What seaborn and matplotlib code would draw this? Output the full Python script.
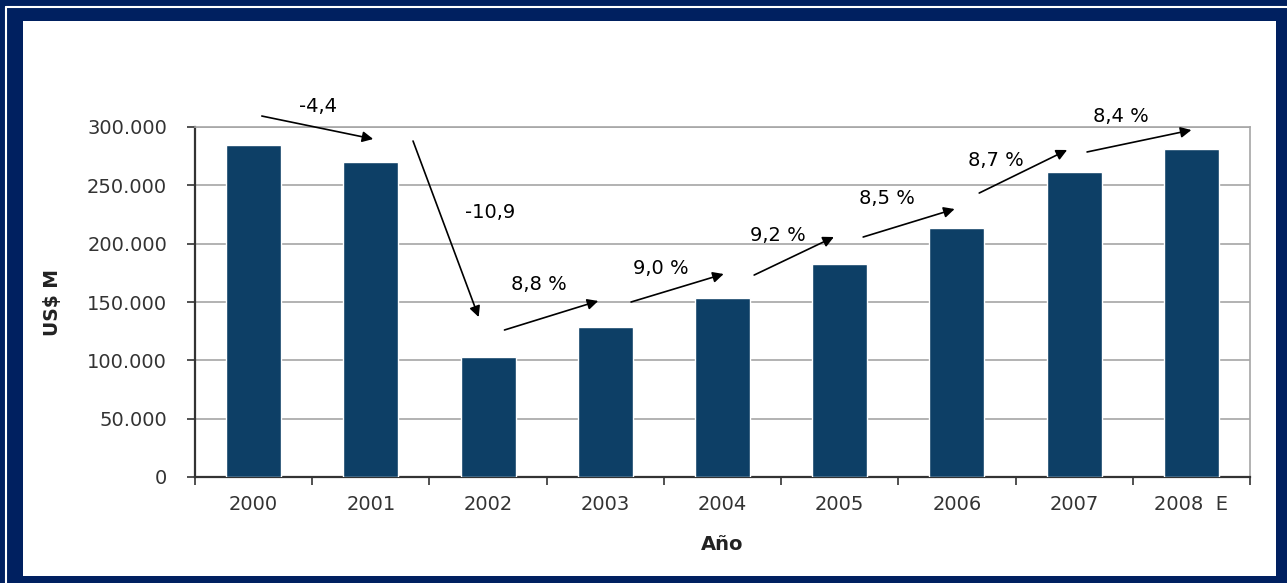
import numpy as np
import matplotlib
matplotlib.use("Agg")
import matplotlib.pyplot as plt
import matplotlib.patches as mpatches
from matplotlib.lines import Line2D
from matplotlib.ticker import FuncFormatter, FixedLocator
import seaborn as sns

# data
years = ["2000", "2001", "2002", "2003", "2004", "2005", "2006", "2007", "2008  E"]
values = [284500, 270000, 103000, 128500, 153500, 182500, 213500, 261500, 281000]

# growth labels and their arrows (data coordinates)
growth_labels = ["-4,4", "-10,9", "8,8 %", "9,0 %", "9,2 %", "8,5 %", "8,7 %", "8,4 %"]
arrow_tail = [(0.07, 309400), (1.36, 288000), (2.14, 126000), (3.22, 150000),
              (4.27, 173100), (5.20, 205700), (6.19, 243400), (7.11, 278600)]
arrow_head = [(1.02, 289700), (1.92, 137100), (2.94, 150900), (4.01, 174000),
              (4.95, 205700), (5.98, 229700), (6.94, 280300), (8.00, 297400)]
label_pos = [(0.55, 318000), (2.02, 226300), (2.43, 165400), (3.47, 178300),
             (4.47, 206600), (5.40, 239100), (6.33, 271700), (7.40, 309400)]

bar_color = "#0d3f66"
frame_color = "#002060"
grid_color = "#a6a6a6"

sns.set_style("white")
plt.rcParams["font.family"] = ["DejaVu Sans"]

W, H = 1287, 583
fig = plt.figure(figsize=(W / 100, H / 100), dpi=100)
fig.patch.set_facecolor(frame_color)

# white inner panel and thin white line of the frame (top and left only)
fig.patches.append(mpatches.Rectangle((23 / W, 1 - 576 / H), (1276 - 23) / W, (576 - 21) / H,
                                      transform=fig.transFigure, facecolor="white",
                                      edgecolor="none", zorder=0))
fig.lines.append(Line2D([6 / W, 1.0], [1 - 7 / H, 1 - 7 / H], transform=fig.transFigure,
                        color="white", lw=1.5, zorder=0))
fig.lines.append(Line2D([6 / W, 6 / W], [0.0, 1 - 7 / H], transform=fig.transFigure,
                        color="white", lw=1.5, zorder=0))

ax = fig.add_axes([195 / W, 1 - 477 / H, (1250 - 195) / W, (477 - 127) / H])
ax.set_zorder(2)
ax.set_facecolor("white")

sns.barplot(x=years, y=values, color=bar_color, saturation=1, width=0.47, ax=ax, zorder=3)

ax.set_ylim(0, 300000)
ax.set_xlim(-0.5, len(years) - 0.5)
ax.yaxis.set_major_locator(FixedLocator(np.arange(0, 300001, 50000)))
ax.yaxis.set_major_formatter(FuncFormatter(lambda v, p: f"{int(v):,}".replace(",", ".")))
ax.grid(axis="y", color=grid_color, lw=1.2, zorder=0)
ax.set_axisbelow(True)

# tick marks between categories
ax.xaxis.set_minor_locator(FixedLocator(np.arange(-0.5, len(years), 1.0)))
ax.tick_params(axis="x", which="major", length=0, pad=13, labelsize=14, colors="#333333")
ax.tick_params(axis="x", which="minor", length=6, width=1.2, direction="out",
               color="#333333", bottom=True)
ax.tick_params(axis="y", length=6, width=1.2, direction="out", pad=14, labelsize=14,
               colors="#333333", left=True)

for side in ["left", "bottom"]:
    ax.spines[side].set_color("#333333")
    ax.spines[side].set_linewidth(1.6)
for side in ["top", "right"]:
    ax.spines[side].set_visible(True)
    ax.spines[side].set_color(grid_color)
    ax.spines[side].set_linewidth(1.2)

ax.set_ylabel("US$ M", fontsize=13.5, fontweight="bold", color="#222222")
ax.set_xlabel("Año", fontsize=14, fontweight="bold", color="#222222")
ax.yaxis.set_label_coords(-0.126, 0.5)
ax.xaxis.set_label_coords(0.5, -0.166)

for lab, tail, head, pos in zip(growth_labels, arrow_tail, arrow_head, label_pos):
    ax.annotate("", xy=head, xytext=tail, annotation_clip=False,
                arrowprops=dict(arrowstyle="-|>", color="black", lw=1.2,
                                mutation_scale=16, shrinkA=0, shrinkB=0), zorder=5)
    ax.text(pos[0], pos[1], lab, fontsize=14, ha="center", va="center",
            color="black", zorder=5, clip_on=False)

fig.savefig("out.png", dpi=100, facecolor=fig.get_facecolor())
plt.close(fig)
